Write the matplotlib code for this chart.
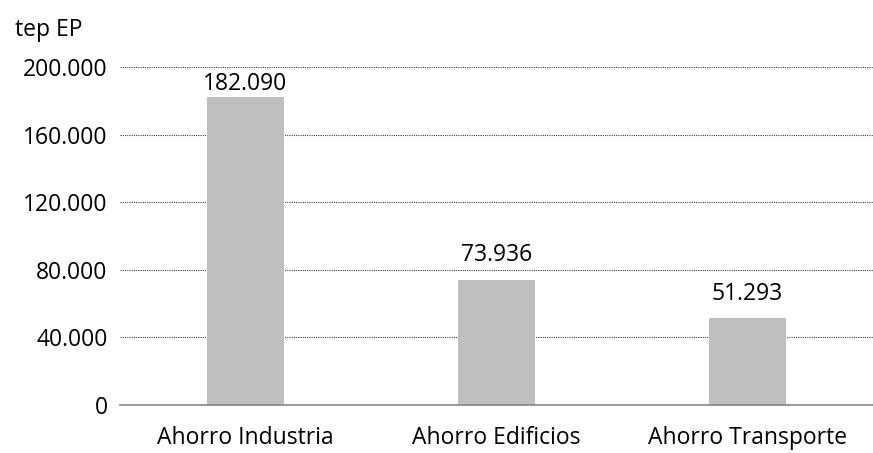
import numpy as np
import matplotlib.pyplot as plt
from matplotlib.ticker import FuncFormatter

categories = ['Ahorro Industria', 'Ahorro Edificios', 'Ahorro Transporte']
values = [182090, 73936, 51293]
yticks = [0, 40000, 80000, 120000, 160000, 200000]

def fmt(v, pos=None):
    return '{:,.0f}'.format(v).replace(',', '.')

plt.rcParams['font.family'] = ['Open Sans', 'DejaVu Sans']
fs = 16.5

fig = plt.figure(figsize=(8.73, 4.53), dpi=100)
ax = fig.add_axes([0.1375, 0.106, 0.8625, 0.746])

x = np.arange(len(categories))
ax.bar(x, values, width=0.305, color='#bfbfbf', zorder=2)
# labels sit above the bars, but are kept inside the plot area (like Excel does)
for xi, v in zip(x, values):
    ax.text(xi, min(v + 11000, 186500), fmt(v), ha='center', va='baseline',
            fontsize=fs, color='black')

ax.set_xlim(-0.5, 2.5)
ax.set_ylim(0, 200000)
ax.set_yticks(yticks)
ax.yaxis.set_major_formatter(FuncFormatter(fmt))
ax.set_xticks(x)
ax.set_xticklabels(categories)
ax.tick_params(length=0, labelsize=fs, colors='black')
ax.tick_params(axis='y', pad=9)
ax.tick_params(axis='x', pad=15)
ax.yaxis.grid(True, linestyle=(0, (1, 1)), color='#404040', linewidth=0.8, zorder=0)
for s in ['top', 'right', 'left']:
    ax.spines[s].set_visible(False)
ax.spines['bottom'].set_color('#868686')
ax.spines['bottom'].set_linewidth(1.2)

fig.text(15 / 873, 1 - 30 / 453, 'tep EP', fontsize=fs, va='center', ha='left')

fig.savefig('out.png', dpi=100)
